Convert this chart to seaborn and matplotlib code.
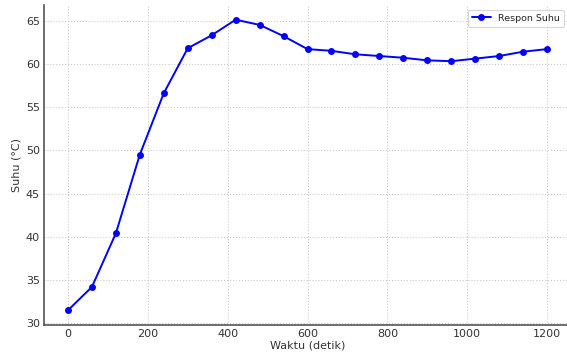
import pandas as pd
import matplotlib.pyplot as plt
import seaborn as sns

# data
waktu = [0, 60, 120, 180, 240, 300, 360, 420, 480, 540, 600,
         660, 720, 780, 840, 900, 960, 1020, 1080, 1140, 1200]
suhu = [31.5, 34.2, 40.4, 49.5, 56.6, 61.8, 63.3, 65.1, 64.5, 63.2, 61.7,
        61.5, 61.1, 60.9, 60.7, 60.4, 60.3, 60.6, 60.9, 61.4, 61.7]

df = pd.DataFrame({"waktu": waktu, "suhu": suhu})

sns.set_theme(style="whitegrid")
plt.rcParams['font.family'] = ['DejaVu Sans']

fig = plt.figure(figsize=(5.67, 3.6), dpi=100)
ax = fig.add_axes([44 / 567, 1 - 325 / 360, (571 - 44) / 567, (325 - 5) / 360])

sns.lineplot(data=df, x="waktu", y="suhu", ax=ax, color="#0000ff",
             marker="o", markersize=5, markeredgewidth=0, linewidth=1.4,
             label="Respon Suhu")

ax.set_xlim(-60, 1260)
ax.set_ylim(29.8, 66.8)
ax.set_xticks([0, 200, 400, 600, 800, 1000, 1200])
ax.set_yticks([30, 35, 40, 45, 50, 55, 60, 65])
ax.set_xlabel("Waktu (detik)", fontsize=8, color="#333333", labelpad=1)
ax.set_ylabel("Suhu (°C)", fontsize=8, color="#333333", labelpad=3)
ax.tick_params(axis="both", labelsize=8, colors="#333333", length=3,
               direction="in", pad=3)

ax.grid(True, linestyle=":", color="#cccccc", linewidth=0.8)
ax.set_facecolor("white")
for side in ["top", "right"]:
    ax.spines[side].set_visible(False)
for side in ["left", "bottom"]:
    ax.spines[side].set_color("#555555")
    ax.spines[side].set_linewidth(1.2)

leg = ax.legend(loc="upper right", fontsize=6.8, frameon=True,
                borderaxespad=0,
                bbox_to_anchor=((564 - 44) / 527, (325 - 10) / 320))
leg.get_frame().set_edgecolor("#cccccc")
leg.get_frame().set_linewidth(0.8)

fig.savefig("out.png", dpi=100)
